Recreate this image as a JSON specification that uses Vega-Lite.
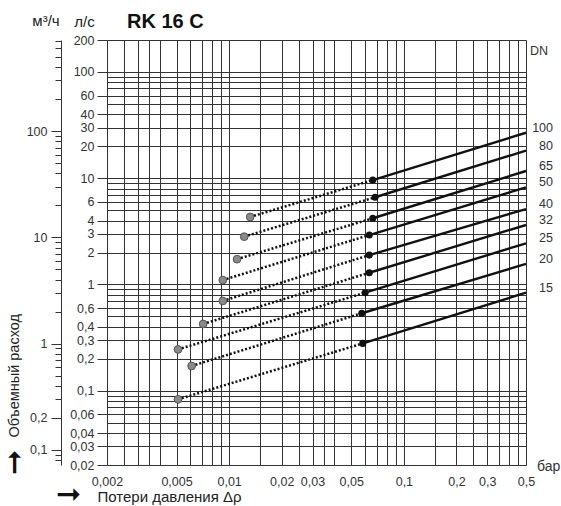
{
  "$schema": "https://vega.github.io/schema/vega-lite/v6.json",
  "width": 419,
  "height": 425,
  "autosize": {"type": "none"},
  "padding": {"left": 107, "top": 40, "right": 35, "bottom": 41},
  "background": "white",
  "config": {"font": "Liberation Sans", "view": {"stroke": null}},
  "data": {"values": [
    {"dn": "100", "kind": "start", "dp": 0.0132, "q": 4.32},
    {"dn": "100", "kind": "mid", "dp": 0.0664, "q": 9.62},
    {"dn": "100", "kind": "end", "dp": 0.5, "q": 26.8},
    {"dn": "80", "kind": "start", "dp": 0.0122, "q": 2.82},
    {"dn": "80", "kind": "mid", "dp": 0.0684, "q": 6.62},
    {"dn": "80", "kind": "end", "dp": 0.5, "q": 18.2},
    {"dn": "65", "kind": "start", "dp": 0.0111, "q": 1.73},
    {"dn": "65", "kind": "mid", "dp": 0.0664, "q": 4.2},
    {"dn": "65", "kind": "end", "dp": 0.5, "q": 11.7},
    {"dn": "50", "kind": "start", "dp": 0.0092, "q": 1.1},
    {"dn": "50", "kind": "mid", "dp": 0.0634, "q": 2.92},
    {"dn": "50", "kind": "end", "dp": 0.5, "q": 8.22},
    {"dn": "40", "kind": "start", "dp": 0.0092, "q": 0.7},
    {"dn": "40", "kind": "mid", "dp": 0.0634, "q": 1.89},
    {"dn": "40", "kind": "end", "dp": 0.5, "q": 5.13},
    {"dn": "32", "kind": "start", "dp": 0.0071, "q": 0.425},
    {"dn": "32", "kind": "mid", "dp": 0.0634, "q": 1.29},
    {"dn": "32", "kind": "end", "dp": 0.5, "q": 3.63},
    {"dn": "25", "kind": "start", "dp": 0.0051, "q": 0.245},
    {"dn": "25", "kind": "mid", "dp": 0.06, "q": 0.837},
    {"dn": "25", "kind": "end", "dp": 0.5, "q": 2.44},
    {"dn": "20", "kind": "start", "dp": 0.0061, "q": 0.171},
    {"dn": "20", "kind": "mid", "dp": 0.0574, "q": 0.536},
    {"dn": "20", "kind": "end", "dp": 0.5, "q": 1.56},
    {"dn": "15", "kind": "start", "dp": 0.0051, "q": 0.083},
    {"dn": "15", "kind": "mid", "dp": 0.0582, "q": 0.279},
    {"dn": "15", "kind": "end", "dp": 0.5, "q": 0.837}
  ]},
  "layer": [
    {
      "transform": [{"filter": "datum.kind != 'end'"}],
      "mark": {"type": "line", "strokeDash": [2, 2], "strokeWidth": 2.5, "color": "#111"},
      "encoding": {
        "x": {"field": "dp", "type": "quantitative", "scale": {"type": "log", "domain": [0.002, 0.5], "nice": false},
          "axis": {
            "values": [0.002, 0.0025, 0.003, 0.0035, 0.004, 0.005, 0.006, 0.007, 0.008, 0.009, 0.01, 0.015, 0.02, 0.025, 0.03, 0.035, 0.04, 0.05, 0.06, 0.07, 0.08, 0.09, 0.1, 0.15, 0.2, 0.25, 0.3, 0.35, 0.4, 0.45, 0.5],
            "grid": true, "gridColor": "#333", "gridWidth": 1, "gridOpacity": 1,
            "ticks": false, "domain": false,
            "labelExpr": "indexof([0.002,0.005,0.01,0.02,0.03,0.05,0.1,0.2,0.3,0.5], datum.value) >= 0 ? replace('' + datum.value, '.', ',') : ''",
            "labelPadding": 10, "labelFlush": false, "labelOverlap": false, "labelFontSize": 12.5, "labelColor": "#333", "labelFont": "Liberation Sans",
            "title": "Потери давления Δρ", "titleX": -10, "titleY": 31, "titleAlign": "left", "titleBaseline": "middle", "titleAnchor": null,
            "titleFontSize": 15, "titleFontWeight": "normal", "titleColor": "#222", "titleFont": "Liberation Sans"
          }},
        "y": {"field": "q", "type": "quantitative", "scale": {"type": "log", "domain": [0.02, 200], "nice": false},
          "axis": {
            "orient": "left",
            "values": [200, 100, 90, 80, 70, 60, 50, 40, 30, 20, 10, 9, 8, 7, 6, 5, 4, 3, 2, 1, 0.9, 0.8, 0.7, 0.6, 0.5, 0.4, 0.3, 0.2, 0.1, 0.09, 0.08, 0.07, 0.06, 0.05, 0.04, 0.03, 0.02],
            "grid": true, "gridColor": "#333", "gridWidth": 1, "gridOpacity": 1,
            "domain": false,
            "tickSize": 10, "tickColor": "#333", "tickWidth": 1,
            "tickOpacity": {"condition": {"test": "indexof([200,100,60,40,30,20,10,6,4,3,2,1,0.6,0.4,0.3,0.2,0.1,0.06,0.04,0.03,0.02], datum.value) >= 0", "value": 1}, "value": 0},
            "labelExpr": "indexof([200,100,60,40,30,20,10,6,4,3,2,1,0.6,0.4,0.3,0.2,0.1,0.06,0.04,0.03,0.02], datum.value) >= 0 ? replace('' + datum.value, '.', ',') : ''",
            "labelPadding": 3, "labelOverlap": false, "labelFontSize": 12.5, "labelColor": "#333", "labelFont": "Liberation Sans",
            "title": "л/с", "titleAngle": 0, "titleX": -23, "titleY": -19, "titleAlign": "center", "titleBaseline": "middle",
            "titleFontSize": 15, "titleFontWeight": "normal", "titleColor": "#222", "titleFont": "Liberation Sans"
          }},
        "detail": {"field": "dn"}
      }
    },
    {
      "transform": [{"filter": "datum.kind != 'start'"}],
      "mark": {"type": "line", "strokeWidth": 2.4, "color": "#111"},
      "encoding": {
        "x": {"field": "dp", "type": "quantitative", "axis": null},
        "y": {"field": "q", "type": "quantitative",
          "axis": {
            "orient": "left", "offset": 46,
            "values": [194.444, 166.667, 138.889, 111.111, 83.3333, 55.5556, 27.7778, 25, 22.2222, 19.4444, 16.6667, 13.8889, 11.1111, 8.33333, 5.55556, 2.77778, 2.5, 2.22222, 1.94444, 1.66667, 1.38889, 1.11111, 0.833333, 0.555556, 0.277778, 0.25, 0.222222, 0.194444, 0.166667, 0.138889, 0.111111, 0.0833333, 0.0555556, 0.0277778, 0.025, 0.0222222],
            "grid": false, "domain": true, "domainColor": "#333", "domainWidth": 1,
            "tickColor": "#333", "tickWidth": 1,
            "tickSize": {"condition": {"test": "indexof([700,100,10,1,0.2,0.1], round(datum.value*3600)/1000) >= 0", "value": 10}, "value": 6},
            "labelExpr": "indexof([700,100,10,1,0.2,0.1], round(datum.value*3600)/1000) >= 0 ? replace('' + round(datum.value*3600)/1000, '.', ',') : ''",
            "labelPadding": 4, "labelOverlap": false, "labelFontSize": 12.5, "labelColor": "#333", "labelFont": "Liberation Sans",
            "title": "Объемный расход", "titleAngle": 270, "titleAlign": "left", "titleBaseline": "middle", "titleX": -47, "titleY": 397,
            "titleFontSize": 14.5, "titleFontWeight": "normal", "titleColor": "#222", "titleFont": "Liberation Sans"
          }},
        "detail": {"field": "dn"}
      }
    },
    {
      "transform": [{"filter": "datum.kind == 'start'"}],
      "mark": {"type": "point", "filled": true, "fill": "#8a8a8a", "stroke": "#555", "strokeWidth": 1, "size": 60, "opacity": 1},
      "encoding": {
        "x": {"field": "dp", "type": "quantitative", "axis": null},
        "y": {"field": "q", "type": "quantitative", "axis": null}
      }
    },
    {
      "transform": [{"filter": "datum.kind == 'mid'"}],
      "mark": {"type": "circle", "size": 50, "color": "#111", "opacity": 1},
      "encoding": {
        "x": {"field": "dp", "type": "quantitative", "axis": null},
        "y": {"field": "q", "type": "quantitative", "axis": null}
      }
    },
    {
      "transform": [{"filter": "datum.kind == 'end'"}],
      "mark": {"type": "text", "align": "right", "baseline": "middle", "dx": 27, "dy": -5, "fontSize": 12.5, "font": "Liberation Sans", "color": "#333"},
      "encoding": {
        "x": {"field": "dp", "type": "quantitative", "axis": null},
        "y": {"field": "q", "type": "quantitative", "axis": null},
        "text": {"field": "dn"}
      }
    },
    {
      "data": {"values": [{}]},
      "mark": {"type": "text", "text": "DN", "align": "left", "baseline": "middle", "dx": 4, "dy": 11, "fontSize": 12.5, "font": "Liberation Sans", "color": "#333"},
      "encoding": {
        "x": {"datum": 0.5, "type": "quantitative", "axis": null},
        "y": {"datum": 200, "type": "quantitative", "axis": null}
      }
    },
    {
      "data": {"values": [{}]},
      "mark": {"type": "text", "text": "бар", "align": "left", "baseline": "middle", "dx": 11, "dy": 2, "fontSize": 14, "font": "Liberation Sans", "color": "#333"},
      "encoding": {
        "x": {"datum": 0.5, "type": "quantitative", "axis": null},
        "y": {"datum": 0.02, "type": "quantitative", "axis": null}
      }
    },
    {
      "data": {"values": [{}]},
      "mark": {"type": "text", "text": "м³/ч", "align": "center", "baseline": "middle", "dx": -61, "dy": -19, "fontSize": 15, "font": "Liberation Sans", "color": "#222"},
      "encoding": {
        "x": {"datum": 0.002, "type": "quantitative", "axis": null},
        "y": {"datum": 200, "type": "quantitative", "axis": null}
      }
    },
    {
      "data": {"values": [{}]},
      "mark": {"type": "text", "text": "RK 16 C", "align": "left", "baseline": "alphabetic", "dx": 20, "dy": -12, "fontSize": 20, "fontWeight": "bold", "font": "Liberation Sans", "color": "#111"},
      "encoding": {
        "x": {"datum": 0.002, "type": "quantitative", "axis": null},
        "y": {"datum": 200, "type": "quantitative", "axis": null}
      }
    },
    {
      "data": {"values": [{}]},
      "mark": {"type": "text", "text": "➞", "align": "center", "baseline": "middle", "dx": -39, "dy": 30, "fontSize": 30, "color": "#111"},
      "encoding": {
        "x": {"datum": 0.002, "type": "quantitative", "axis": null},
        "y": {"datum": 0.02, "type": "quantitative", "axis": null}
      }
    },
    {
      "data": {"values": [{}]},
      "mark": {"type": "text", "text": "➞", "align": "center", "baseline": "middle", "angle": 270, "dx": 3, "dy": -92, "fontSize": 30, "color": "#111"},
      "encoding": {
        "x": {"datum": 0.002, "type": "quantitative", "axis": null},
        "y": {"datum": 0.02, "type": "quantitative", "axis": null}
      }
    }
  ],
  "resolve": {"axis": {"x": "independent", "y": "independent"}}
}
